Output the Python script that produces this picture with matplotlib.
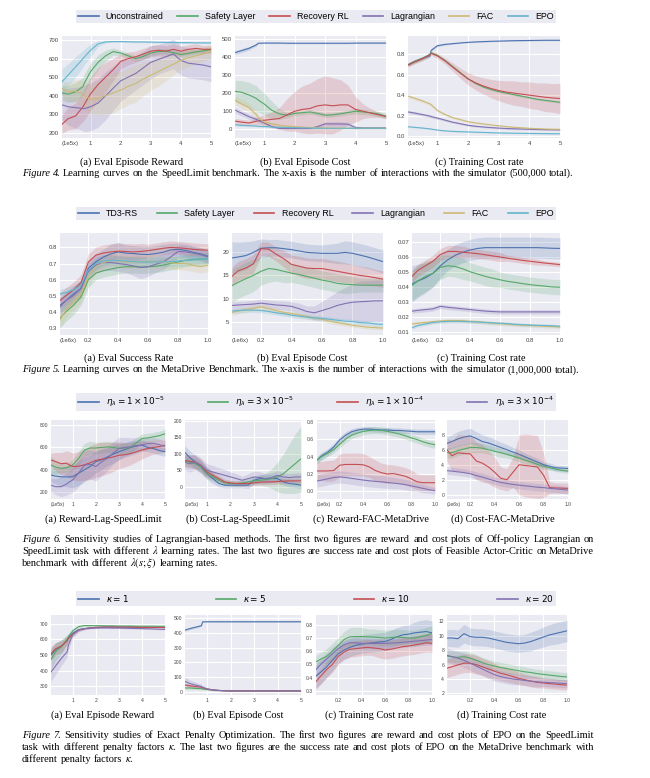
import numpy as np
import matplotlib
matplotlib.use('Agg')
import matplotlib.pyplot as plt
from matplotlib.lines import Line2D

W, H = 650, 778

# seaborn "deep" colours, in legend order
C = ['#4C72B0', '#55A868', '#C44E52', '#8172B2', '#CCB974', '#64B5CD']

labels4 = ['Unconstrained', 'Safety Layer', 'Recovery RL', 'Lagrangian', 'FAC', 'EPO']
labels5 = ['TD3-RS', 'Safety Layer', 'Recovery RL', 'Lagrangian', 'FAC', 'EPO']
labels6 = [r'$\eta_\lambda = 1\times10^{-5}$', r'$\eta_\lambda = 3\times10^{-5}$',
           r'$\eta_\lambda = 1\times10^{-4}$', r'$\eta_\lambda = 3\times10^{-4}$']
labels7 = [r'$\kappa = 1$', r'$\kappa = 5$', r'$\kappa = 10$', r'$\kappa = 20$']

# x values (SpeedLimit in 1e5 steps, MetaDrive in 1e6 steps)
x_sl = [0.05, 0.25, 0.5, 0.75, 0.8, 1.0, 1.25, 1.5, 1.75, 2.0, 2.25, 2.5, 2.75,
        3.0, 3.25, 3.5, 3.75, 4.0, 4.25, 4.5, 4.75, 5.0]
x_md = [0.01, 0.05, 0.1, 0.15, 0.2, 0.25, 0.3, 0.35, 0.4, 0.45, 0.5, 0.55, 0.6,
        0.65, 0.7, 0.75, 0.8, 0.85, 0.9, 0.95, 1.0]

# ---- Figure 4 (SpeedLimit) ----
# (a) reward: Safety Layer, Recovery RL, Lagrangian, FAC, EPO
f4a_mean = [
    [415, 408, 420, 450, 470, 530, 580, 615, 638, 630, 615, 600, 612, 630, 638, 640, 632, 622, 628, 636, 642, 648],
    [245, 275, 290, 340, 355, 410, 460, 500, 540, 585, 600, 610, 625, 640, 645, 640, 650, 640, 650, 655, 650, 650],
    [350, 340, 335, 330, 330, 340, 360, 400, 440, 480, 500, 520, 550, 580, 595, 610, 625, 590, 575, 570, 565, 555],
    [440, 420, 425, 410, 400, 380, 385, 400, 415, 430, 450, 465, 490, 510, 530, 550, 570, 590, 605, 615, 625, 640],
    [475, 510, 555, 600, 610, 645, 680, 690, 692, 692, 691, 690, 690, 689, 688, 688, 687, 686, 686, 685, 685, 685],
]
f4a_band = [
    [40, 45, 50, 50, 50, 45, 40, 30, 20, 15, 15, 15, 15, 15, 15, 15, 15, 15, 15, 15, 15, 15],
    [50, 60, 70, 80, 85, 90, 90, 80, 60, 40, 35, 30, 30, 30, 30, 30, 30, 25, 25, 25, 20, 20],
    [80, 100, 110, 120, 125, 130, 130, 130, 120, 110, 100, 90, 90, 90, 80, 80, 80, 80, 80, 80, 80, 80],
    [40, 50, 60, 70, 75, 80, 90, 100, 110, 100, 100, 100, 90, 80, 80, 70, 60, 50, 50, 40, 40, 40],
    [70, 60, 55, 45, 42, 35, 15, 6, 4, 4, 4, 4, 4, 4, 4, 4, 4, 4, 4, 4, 4, 4],
]
# (b) cost: all six methods
f4b_mean = [
    [425, 435, 448, 468, 476, 477, 477, 477, 476, 476, 476, 476, 476, 476, 476, 476, 476, 477, 477, 477, 477, 477],
    [210, 205, 190, 170, 162, 140, 105, 85, 78, 88, 92, 96, 88, 78, 80, 86, 93, 100, 96, 92, 85, 72],
    [45, 40, 35, 45, 47, 50, 55, 60, 80, 100, 110, 115, 130, 135, 130, 135, 135, 110, 100, 90, 80, 70],
    [105, 90, 70, 55, 50, 35, 15, 5, 5, 5, 5, 5, 15, 30, 30, 30, 28, 10, 8, 8, 8, 8],
    [160, 140, 120, 80, 65, 40, 30, 22, 18, 15, 12, 10, 8, 7, 6, 6, 6, 6, 6, 6, 6, 6],
    [25, 22, 20, 18, 17, 15, 13, 11, 10, 9, 8, 7, 6, 6, 6, 6, 6, 6, 6, 6, 6, 6],
]
f4b_band = [
    [10, 10, 10, 6, 4, 3, 3, 3, 3, 3, 3, 3, 3, 3, 3, 3, 3, 3, 3, 3, 3, 3],
    [60, 65, 70, 70, 65, 60, 50, 30, 15, 12, 12, 12, 12, 12, 12, 12, 12, 15, 15, 15, 15, 15],
    [15, 15, 15, 20, 22, 30, 40, 60, 90, 110, 130, 140, 150, 160, 155, 140, 110, 70, 40, 25, 15, 10],
    [15, 15, 15, 12, 12, 10, 8, 5, 5, 5, 5, 5, 8, 12, 12, 12, 12, 8, 5, 5, 5, 5],
    [25, 25, 25, 20, 18, 15, 10, 8, 6, 5, 5, 5, 5, 5, 5, 5, 5, 5, 5, 5, 5, 5],
    [6, 6, 5, 5, 5, 5, 4, 4, 4, 4, 4, 4, 4, 4, 4, 4, 4, 4, 4, 4, 4, 4],
]
# (c) training cost rate
f4c_mean = [
    [0.70, 0.73, 0.76, 0.785, 0.84, 0.885, 0.898, 0.905, 0.912, 0.918, 0.922, 0.925, 0.928, 0.93, 0.932, 0.934, 0.935, 0.936, 0.937, 0.938, 0.938, 0.938],
    [0.70, 0.73, 0.76, 0.80, 0.815, 0.79, 0.74, 0.68, 0.62, 0.56, 0.515, 0.48, 0.455, 0.435, 0.42, 0.405, 0.39, 0.375, 0.36, 0.35, 0.34, 0.33],
    [0.695, 0.725, 0.755, 0.795, 0.81, 0.785, 0.735, 0.675, 0.615, 0.56, 0.52, 0.49, 0.465, 0.445, 0.43, 0.42, 0.41, 0.40, 0.39, 0.38, 0.373, 0.367],
    [0.235, 0.225, 0.21, 0.195, 0.19, 0.175, 0.155, 0.135, 0.12, 0.105, 0.095, 0.088, 0.082, 0.077, 0.073, 0.07, 0.068, 0.066, 0.064, 0.062, 0.061, 0.06],
    [0.39, 0.37, 0.345, 0.315, 0.305, 0.25, 0.21, 0.18, 0.16, 0.14, 0.128, 0.118, 0.108, 0.1, 0.092, 0.085, 0.08, 0.075, 0.071, 0.068, 0.066, 0.065],
    [0.09, 0.085, 0.078, 0.07, 0.067, 0.058, 0.05, 0.045, 0.042, 0.04, 0.037, 0.035, 0.032, 0.03, 0.028, 0.027, 0.026, 0.025, 0.024, 0.023, 0.022, 0.022],
]
f4c_band = [
    [0.015, 0.015, 0.015, 0.015, 0.012, 0.01, 0.008, 0.006, 0.005, 0.005, 0.005, 0.005, 0.005, 0.005, 0.005, 0.005, 0.005, 0.005, 0.005, 0.005, 0.005, 0.005],
    [0.015, 0.015, 0.015, 0.015, 0.012, 0.01, 0.01, 0.01, 0.01, 0.01, 0.01, 0.01, 0.01, 0.01, 0.01, 0.01, 0.01, 0.01, 0.01, 0.01, 0.01, 0.01],
    [0.02, 0.02, 0.02, 0.02, 0.02, 0.025, 0.03, 0.04, 0.05, 0.06, 0.07, 0.08, 0.09, 0.1, 0.11, 0.12, 0.12, 0.13, 0.13, 0.14, 0.14, 0.15],
    [0.015, 0.015, 0.015, 0.015, 0.015, 0.012, 0.012, 0.01, 0.01, 0.01, 0.01, 0.008, 0.008, 0.008, 0.008, 0.008, 0.008, 0.008, 0.008, 0.008, 0.008, 0.008],
    [0.015, 0.015, 0.015, 0.015, 0.015, 0.012, 0.012, 0.01, 0.01, 0.01, 0.01, 0.008, 0.008, 0.008, 0.008, 0.008, 0.008, 0.008, 0.008, 0.008, 0.008, 0.008],
    [0.006, 0.006, 0.006, 0.006, 0.006, 0.005, 0.005, 0.005, 0.005, 0.005, 0.005, 0.004, 0.004, 0.004, 0.004, 0.004, 0.004, 0.004, 0.004, 0.004, 0.004, 0.004],
]

# ---- Figure 5 (MetaDrive) ----
f5a_mean = [
    [0.44, 0.47, 0.51, 0.545, 0.67, 0.71, 0.74, 0.76, 0.772, 0.765, 0.762, 0.758, 0.756, 0.762, 0.77, 0.785, 0.788, 0.782, 0.77, 0.76, 0.745],
    [0.36, 0.40, 0.44, 0.49, 0.60, 0.64, 0.655, 0.665, 0.675, 0.68, 0.68, 0.678, 0.68, 0.683, 0.69, 0.70, 0.71, 0.72, 0.725, 0.728, 0.73],
    [0.47, 0.50, 0.535, 0.58, 0.71, 0.752, 0.765, 0.772, 0.777, 0.775, 0.772, 0.775, 0.78, 0.787, 0.795, 0.8, 0.798, 0.794, 0.788, 0.785, 0.783],
    [0.43, 0.47, 0.50, 0.545, 0.65, 0.69, 0.705, 0.707, 0.70, 0.694, 0.685, 0.675, 0.68, 0.695, 0.71, 0.74, 0.775, 0.772, 0.765, 0.755, 0.74],
    [0.35, 0.41, 0.46, 0.51, 0.62, 0.68, 0.705, 0.72, 0.715, 0.71, 0.71, 0.712, 0.715, 0.712, 0.71, 0.705, 0.70, 0.70, 0.69, 0.68, 0.69],
    [0.51, 0.52, 0.535, 0.565, 0.66, 0.70, 0.715, 0.72, 0.718, 0.715, 0.712, 0.71, 0.71, 0.71, 0.71, 0.712, 0.715, 0.72, 0.722, 0.725, 0.73],
]
f5a_band = [
    [0.05, 0.05, 0.05, 0.05, 0.05, 0.05, 0.05, 0.06, 0.06, 0.05, 0.05, 0.05, 0.05, 0.05, 0.05, 0.04, 0.04, 0.04, 0.04, 0.04, 0.04],
    [0.06, 0.06, 0.06, 0.05, 0.05, 0.04, 0.04, 0.04, 0.04, 0.04, 0.04, 0.04, 0.04, 0.04, 0.04, 0.04, 0.04, 0.04, 0.04, 0.04, 0.04],
    [0.05, 0.05, 0.05, 0.05, 0.05, 0.05, 0.05, 0.05, 0.05, 0.05, 0.05, 0.05, 0.04, 0.04, 0.04, 0.04, 0.04, 0.04, 0.04, 0.04, 0.04],
    [0.05, 0.05, 0.05, 0.05, 0.05, 0.05, 0.05, 0.05, 0.05, 0.05, 0.06, 0.07, 0.06, 0.05, 0.05, 0.04, 0.04, 0.04, 0.04, 0.04, 0.04],
    [0.05, 0.05, 0.05, 0.05, 0.05, 0.04, 0.04, 0.04, 0.04, 0.04, 0.04, 0.04, 0.04, 0.04, 0.04, 0.04, 0.04, 0.04, 0.04, 0.04, 0.04],
    [0.03, 0.03, 0.03, 0.03, 0.03, 0.03, 0.03, 0.03, 0.03, 0.03, 0.03, 0.03, 0.03, 0.03, 0.03, 0.03, 0.03, 0.03, 0.03, 0.03, 0.03],
]
f5b_mean = [
    [18.8, 19.0, 19.3, 20.0, 20.9, 21.0, 21.0, 20.8, 20.6, 20.3, 20.0, 19.9, 19.8, 19.8, 19.8, 20.0, 19.8, 19.4, 19.0, 18.5, 18.0],
    [12.8, 13.5, 14.3, 15.0, 15.9, 16.5, 16.3, 15.9, 15.5, 15.2, 14.8, 14.4, 14.0, 13.7, 13.3, 13.1, 13.0, 12.9, 12.9, 12.9, 12.9],
    [14.8, 16.0, 16.6, 17.5, 20.8, 20.7, 19.6, 18.6, 17.4, 17.0, 16.6, 16.5, 16.5, 16.2, 15.9, 15.6, 15.3, 15.0, 14.8, 14.5, 14.2],
    [8.5, 8.6, 8.7, 8.8, 9.0, 8.8, 8.6, 8.5, 8.3, 7.8, 7.2, 6.9, 7.4, 7.9, 8.5, 8.9, 9.2, 9.3, 9.4, 9.5, 9.5],
    [7.0, 7.3, 7.6, 7.9, 8.2, 7.8, 7.4, 7.0, 6.8, 6.4, 6.1, 5.8, 5.5, 5.1, 4.8, 4.5, 4.2, 4.0, 3.8, 3.7, 3.6],
    [7.3, 7.4, 7.5, 7.5, 7.4, 7.2, 6.9, 6.7, 6.4, 6.2, 6.0, 5.8, 5.7, 5.5, 5.3, 5.1, 5.0, 4.8, 4.7, 4.5, 4.4],
]
f5b_band = [
    [3.5, 3.2, 3.0, 2.5, 2.0, 1.8, 1.8, 1.8, 1.8, 1.8, 1.8, 1.8, 1.8, 2.0, 2.2, 2.5, 2.5, 2.5, 2.5, 2.5, 2.5],
    [3.5, 3.5, 3.5, 3.5, 3.0, 3.0, 2.5, 2.5, 2.0, 2.0, 2.0, 2.0, 2.0, 2.0, 2.0, 2.0, 1.8, 1.5, 1.5, 1.5, 1.5],
    [2.0, 2.0, 2.0, 2.0, 1.5, 1.5, 1.5, 1.8, 2.0, 2.2, 2.2, 2.2, 2.2, 2.2, 2.2, 2.2, 2.0, 2.0, 2.0, 1.8, 1.8],
    [0.8, 0.8, 0.8, 0.8, 0.9, 0.9, 0.9, 1.0, 1.0, 1.2, 1.2, 1.5, 2.0, 2.5, 3.0, 3.5, 4.0, 4.5, 4.5, 4.5, 4.5],
    [0.6, 0.6, 0.6, 0.6, 0.6, 0.6, 0.6, 0.5, 0.5, 0.5, 0.5, 0.5, 0.5, 0.5, 0.5, 0.5, 0.4, 0.4, 0.4, 0.4, 0.4],
    [0.5, 0.5, 0.5, 0.5, 0.5, 0.5, 0.5, 0.5, 0.5, 0.5, 0.5, 0.5, 0.5, 0.5, 0.5, 0.5, 0.5, 0.5, 0.5, 0.5, 0.5],
]
f5c_mean = [
    [0.042, 0.044, 0.046, 0.049, 0.054, 0.058, 0.061, 0.063, 0.0645, 0.0655, 0.066, 0.066, 0.066, 0.066, 0.066, 0.066, 0.066, 0.066, 0.0658, 0.0656, 0.0655],
    [0.041, 0.044, 0.047, 0.049, 0.053, 0.054, 0.0535, 0.052, 0.050, 0.0485, 0.047, 0.0458, 0.0447, 0.0437, 0.043, 0.0422, 0.0415, 0.041, 0.0405, 0.040, 0.0398],
    [0.047, 0.051, 0.054, 0.057, 0.0615, 0.0635, 0.0635, 0.063, 0.0625, 0.062, 0.0613, 0.0605, 0.0598, 0.059, 0.0583, 0.0576, 0.057, 0.0564, 0.0558, 0.0553, 0.0548],
    [0.024, 0.0245, 0.025, 0.0255, 0.0272, 0.0265, 0.026, 0.0255, 0.025, 0.0245, 0.024, 0.0237, 0.0235, 0.0235, 0.0235, 0.0235, 0.0235, 0.0235, 0.0235, 0.0235, 0.0235],
    [0.0155, 0.016, 0.0165, 0.017, 0.0175, 0.0178, 0.0178, 0.0177, 0.0172, 0.017, 0.0165, 0.016, 0.0157, 0.0153, 0.015, 0.0147, 0.0145, 0.0143, 0.014, 0.0138, 0.0135],
    [0.013, 0.0145, 0.0155, 0.0165, 0.017, 0.0172, 0.0173, 0.0172, 0.017, 0.0168, 0.0165, 0.0162, 0.016, 0.0157, 0.0153, 0.015, 0.0148, 0.0146, 0.0145, 0.0143, 0.014],
]
f5c_band = [
    [0.012, 0.011, 0.010, 0.009, 0.008, 0.007, 0.007, 0.007, 0.007, 0.007, 0.007, 0.007, 0.007, 0.007, 0.007, 0.007, 0.007, 0.007, 0.007, 0.007, 0.007],
    [0.010, 0.010, 0.010, 0.009, 0.008, 0.007, 0.007, 0.007, 0.006, 0.006, 0.006, 0.006, 0.005, 0.005, 0.005, 0.005, 0.005, 0.005, 0.005, 0.005, 0.005],
    [0.004, 0.004, 0.004, 0.004, 0.004, 0.004, 0.004, 0.004, 0.003, 0.003, 0.003, 0.003, 0.003, 0.002, 0.002, 0.002, 0.002, 0.002, 0.0015, 0.0015, 0.0015],
    [0.0015, 0.0015, 0.0015, 0.0015, 0.0015, 0.0015, 0.0015, 0.0015, 0.0015, 0.0015, 0.0015, 0.0015, 0.0015, 0.0015, 0.0015, 0.0015, 0.0015, 0.0015, 0.0015, 0.0015, 0.0015],
    [0.0012, 0.0012, 0.0012, 0.0012, 0.0012, 0.0012, 0.0012, 0.0012, 0.0012, 0.0012, 0.0012, 0.0012, 0.0012, 0.0012, 0.0012, 0.0012, 0.0012, 0.0012, 0.0012, 0.0012, 0.0012],
    [0.001, 0.001, 0.001, 0.001, 0.001, 0.001, 0.001, 0.001, 0.001, 0.001, 0.001, 0.001, 0.001, 0.001, 0.001, 0.001, 0.001, 0.001, 0.001, 0.001, 0.001],
]

# ---- Figure 6 (Lagrangian sensitivity) ----
f6a_mean = [
    [354, 345, 338, 337, 337, 340, 370, 400, 430, 473, 490, 515, 540, 562, 580, 600, 612, 622, 600, 590, 572, 562],
    [444, 425, 414, 420, 425, 444, 500, 575, 595, 595, 600, 605, 600, 592, 595, 600, 640, 680, 685, 695, 705, 722],
    [488, 475, 455, 460, 450, 430, 432, 445, 462, 485, 495, 505, 515, 530, 535, 545, 560, 578, 590, 600, 608, 620],
    [265, 250, 250, 275, 285, 310, 370, 440, 450, 430, 470, 503, 550, 590, 600, 607, 615, 622, 635, 637, 625, 610],
]
f6a_band = [
    [60, 70, 80, 90, 90, 100, 110, 110, 100, 100, 90, 80, 80, 70, 60, 60, 50, 50, 40, 40, 40, 40],
    [80, 60, 40, 40, 40, 50, 60, 60, 60, 50, 50, 50, 50, 50, 50, 50, 50, 40, 40, 40, 40, 40],
    [60, 80, 100, 110, 115, 120, 130, 140, 150, 150, 150, 140, 130, 120, 110, 100, 90, 80, 70, 60, 60, 60],
    [60, 70, 90, 100, 100, 110, 120, 130, 130, 130, 120, 110, 100, 100, 90, 80, 70, 60, 50, 50, 50, 50],
]
f6b_mean = [
    [105, 90, 75, 60, 55, 40, 25, 10, 5, 5, 5, 5, 5, 20, 25, 25, 25, 25, 15, 10, 8, 5],
    [80, 75, 70, 60, 55, 40, 30, 20, 12, 10, 10, 12, 15, 18, 20, 22, 25, 30, 40, 55, 70, 85],
    [80, 78, 75, 65, 60, 45, 35, 25, 15, 12, 10, 10, 10, 12, 14, 15, 15, 16, 17, 18, 18, 18],
    [75, 70, 75, 65, 62, 50, 45, 40, 35, 30, 25, 20, 25, 30, 28, 25, 28, 35, 30, 28, 30, 30],
]
f6b_band = [
    [20, 20, 20, 20, 20, 18, 15, 10, 8, 8, 8, 8, 10, 12, 12, 12, 12, 12, 10, 10, 10, 10],
    [15, 15, 15, 15, 15, 15, 12, 10, 8, 8, 8, 10, 10, 12, 15, 20, 30, 45, 60, 75, 90, 100],
    [20, 20, 20, 18, 18, 15, 12, 10, 8, 8, 8, 8, 8, 8, 8, 8, 8, 8, 8, 8, 8, 8],
    [25, 25, 25, 22, 22, 20, 20, 18, 18, 15, 15, 12, 15, 18, 18, 15, 15, 15, 12, 12, 12, 12],
]
f6c_mean = [
    [0.36, 0.41, 0.45, 0.51, 0.59, 0.645, 0.685, 0.705, 0.715, 0.715, 0.71, 0.705, 0.705, 0.70, 0.70, 0.695, 0.69, 0.685, 0.685, 0.685, 0.685],
    [0.36, 0.40, 0.44, 0.48, 0.54, 0.60, 0.645, 0.67, 0.69, 0.70, 0.705, 0.70, 0.69, 0.675, 0.66, 0.64, 0.615, 0.595, 0.57, 0.55, 0.535],
    [0.235, 0.235, 0.235, 0.24, 0.30, 0.31, 0.31, 0.31, 0.305, 0.28, 0.24, 0.215, 0.20, 0.205, 0.19, 0.175, 0.145, 0.11, 0.10, 0.10, 0.10],
    [0.12, 0.13, 0.145, 0.16, 0.166, 0.16, 0.15, 0.14, 0.13, 0.122, 0.115, 0.11, 0.103, 0.095, 0.088, 0.078, 0.065, 0.05, 0.035, 0.02, 0.008],
]
f6c_band = [
    [0.04, 0.04, 0.04, 0.04, 0.04, 0.04, 0.035, 0.03, 0.03, 0.03, 0.03, 0.03, 0.03, 0.03, 0.03, 0.03, 0.03, 0.03, 0.03, 0.03, 0.03],
    [0.04, 0.04, 0.04, 0.04, 0.04, 0.04, 0.04, 0.04, 0.04, 0.04, 0.04, 0.04, 0.04, 0.04, 0.04, 0.04, 0.04, 0.04, 0.04, 0.04, 0.04],
    [0.1, 0.11, 0.12, 0.12, 0.13, 0.13, 0.13, 0.13, 0.13, 0.12, 0.12, 0.11, 0.11, 0.1, 0.1, 0.1, 0.1, 0.09, 0.09, 0.09, 0.09],
    [0.07, 0.07, 0.07, 0.07, 0.07, 0.07, 0.07, 0.07, 0.07, 0.07, 0.07, 0.07, 0.07, 0.065, 0.06, 0.06, 0.06, 0.05, 0.05, 0.04, 0.04],
]
f6d_mean = [
    [6.85, 7.1, 7.45, 7.7, 7.85, 7.5, 7.1, 6.9, 6.6, 6.3, 6.0, 5.7, 5.4, 5.05, 4.7, 4.35, 4.0, 3.8, 3.6, 3.55, 3.5],
    [5.6, 5.6, 5.9, 6.1, 6.3, 6.3, 6.2, 6.0, 5.8, 5.6, 5.4, 5.15, 4.9, 4.6, 4.35, 4.05, 3.8, 3.6, 3.4, 3.25, 3.15],
    [6.0, 5.2, 5.6, 5.5, 5.45, 4.5, 4.2, 3.7, 3.0, 2.2, 2.0, 3.0, 4.0, 3.9, 3.8, 3.7, 2.6, 0.95, 0.9, 0.88, 0.85],
    [3.2, 3.15, 3.05, 2.95, 2.8, 2.55, 2.35, 2.1, 1.85, 1.65, 1.5, 1.38, 1.28, 1.18, 1.1, 1.0, 0.95, 0.85, 0.78, 0.7, 0.62],
]
f6d_band = [
    [0.9, 0.9, 1.0, 1.0, 1.0, 0.9, 0.9, 0.8, 0.8, 0.7, 0.7, 0.6, 0.6, 0.5, 0.5, 0.5, 0.4, 0.4, 0.4, 0.4, 0.4],
    [0.7, 0.7, 0.7, 0.7, 0.7, 0.7, 0.6, 0.6, 0.6, 0.6, 0.5, 0.5, 0.5, 0.5, 0.4, 0.4, 0.4, 0.3, 0.3, 0.3, 0.3],
    [1.5, 2.0, 2.5, 2.5, 2.5, 2.5, 2.5, 2.2, 2.0, 1.5, 1.5, 2.0, 4.0, 4.2, 4.2, 4.2, 3.0, 0.8, 0.7, 0.7, 0.7],
    [0.5, 0.5, 0.5, 0.5, 0.5, 0.5, 0.5, 0.5, 0.5, 0.5, 0.5, 0.5, 0.5, 0.5, 0.5, 0.5, 0.5, 0.5, 0.5, 0.5, 0.5],
]

# ---- Figure 7 (EPO penalty factor) ----
f7a_mean = [
    [500, 535, 555, 595, 610, 640, 663, 670, 675, 678, 679, 680, 680, 680, 680, 680, 680, 679, 679, 678, 678, 677],
    [472, 521, 554, 601, 615, 657, 683, 690, 690, 689, 689, 688, 688, 687, 687, 687, 686, 686, 686, 686, 685, 685],
    [510, 540, 558, 590, 605, 635, 661, 670, 675, 678, 680, 681, 681, 680, 680, 680, 679, 678, 678, 678, 678, 678],
    [390, 430, 478, 520, 560, 635, 662, 670, 673, 674, 675, 675, 674, 674, 673, 672, 671, 670, 669, 668, 666, 665],
]
f7a_band = [
    [50, 45, 40, 30, 25, 15, 8, 5, 4, 4, 4, 4, 4, 4, 4, 4, 4, 4, 4, 4, 4, 4],
    [60, 55, 45, 30, 25, 15, 8, 5, 4, 4, 4, 4, 4, 4, 4, 4, 4, 4, 4, 4, 4, 4],
    [40, 40, 35, 30, 25, 15, 10, 8, 5, 4, 4, 4, 4, 4, 4, 4, 4, 4, 4, 4, 4, 4],
    [60, 55, 45, 35, 30, 20, 10, 6, 4, 4, 4, 4, 4, 4, 4, 4, 4, 4, 4, 4, 4, 4],
]
f7b_mean = [
    [420, 430, 440, 450, 476, 477, 477, 477, 477, 477, 477, 477, 477, 477, 477, 477, 477, 477, 477, 477, 477, 477],
    [25, 25, 22, 20, 18, 15, 10, 8, 6, 5, 5, 5, 5, 5, 5, 5, 5, 5, 5, 5, 5, 5],
    [45, 40, 35, 30, 26, 18, 12, 8, 6, 5, 5, 5, 5, 5, 5, 5, 5, 5, 5, 5, 5, 5],
    [70, 55, 45, 35, 30, 18, 12, 8, 6, 5, 5, 5, 5, 5, 5, 5, 5, 5, 5, 5, 5, 5],
]
f7b_band = [
    [8, 8, 8, 6, 3, 3, 3, 3, 3, 3, 3, 3, 3, 3, 3, 3, 3, 3, 3, 3, 3, 3],
    [10, 10, 8, 8, 6, 5, 4, 3, 3, 3, 3, 3, 3, 3, 3, 3, 3, 3, 3, 3, 3, 3],
    [10, 10, 8, 8, 6, 5, 4, 3, 3, 3, 3, 3, 3, 3, 3, 3, 3, 3, 3, 3, 3, 3],
    [30, 25, 20, 15, 12, 8, 5, 3, 3, 3, 3, 3, 3, 3, 3, 3, 3, 3, 3, 3, 3, 3],
]
f7c_mean = [
    [0.41, 0.44, 0.48, 0.53, 0.58, 0.61, 0.63, 0.645, 0.655, 0.66, 0.665, 0.67, 0.675, 0.69, 0.71, 0.725, 0.73, 0.74, 0.745, 0.75, 0.74],
    [0.52, 0.54, 0.56, 0.60, 0.645, 0.69, 0.71, 0.712, 0.712, 0.71, 0.708, 0.705, 0.70, 0.705, 0.708, 0.705, 0.70, 0.70, 0.71, 0.72, 0.735],
    [0.37, 0.41, 0.46, 0.50, 0.56, 0.595, 0.615, 0.62, 0.625, 0.63, 0.625, 0.62, 0.61, 0.615, 0.625, 0.635, 0.64, 0.648, 0.655, 0.665, 0.66],
    [0.46, 0.50, 0.54, 0.58, 0.62, 0.65, 0.665, 0.665, 0.66, 0.66, 0.66, 0.66, 0.66, 0.662, 0.665, 0.668, 0.672, 0.676, 0.68, 0.685, 0.69],
]
f7c_band = [
    [0.09, 0.09, 0.08, 0.08, 0.07, 0.07, 0.07, 0.07, 0.07, 0.07, 0.07, 0.07, 0.07, 0.07, 0.07, 0.07, 0.07, 0.08, 0.09, 0.09, 0.09],
    [0.05, 0.05, 0.06, 0.06, 0.06, 0.06, 0.07, 0.07, 0.07, 0.06, 0.06, 0.06, 0.06, 0.06, 0.06, 0.06, 0.06, 0.06, 0.06, 0.06, 0.06],
    [0.06, 0.06, 0.06, 0.06, 0.06, 0.06, 0.06, 0.06, 0.06, 0.06, 0.06, 0.07, 0.07, 0.07, 0.07, 0.07, 0.07, 0.07, 0.07, 0.07, 0.07],
    [0.05, 0.05, 0.05, 0.05, 0.04, 0.04, 0.04, 0.04, 0.04, 0.04, 0.04, 0.04, 0.04, 0.04, 0.04, 0.04, 0.04, 0.04, 0.04, 0.04, 0.04],
]
f7d_mean = [
    [9.7, 9.7, 9.6, 10.3, 9.9, 9.8, 9.8, 9.7, 9.5, 9.3, 9.1, 9.0, 8.9, 9.0, 9.2, 9.5, 9.8, 10.1, 10.3, 10.5, 10.7],
    [7.2, 7.1, 7.0, 7.1, 6.9, 6.6, 6.3, 6.0, 5.8, 5.6, 5.45, 5.3, 5.15, 5.0, 4.9, 4.75, 4.65, 4.55, 4.45, 4.35, 4.3],
    [5.5, 5.7, 5.95, 6.2, 6.2, 6.0, 5.7, 5.4, 5.1, 4.8, 4.6, 4.35, 4.1, 3.9, 3.7, 3.55, 3.45, 3.35, 3.3, 3.2, 3.15],
    [7.3, 7.1, 6.9, 6.6, 6.2, 5.8, 5.4, 5.0, 4.6, 4.35, 4.15, 4.0, 3.9, 3.8, 3.7, 3.6, 3.55, 3.5, 3.45, 3.4, 3.35],
]
f7d_band = [
    [1.2, 1.2, 1.2, 1.3, 1.2, 1.2, 1.2, 1.2, 1.2, 1.2, 1.2, 1.2, 1.2, 1.2, 1.3, 1.3, 1.4, 1.4, 1.5, 1.5, 1.5],
    [0.8, 0.8, 0.8, 0.8, 0.8, 0.8, 0.7, 0.7, 0.7, 0.7, 0.7, 0.7, 0.7, 0.7, 0.6, 0.6, 0.6, 0.6, 0.6, 0.6, 0.6],
    [1.3, 1.3, 1.3, 1.3, 1.3, 1.3, 1.2, 1.2, 1.1, 1.0, 1.0, 0.9, 0.9, 0.8, 0.8, 0.8, 0.7, 0.7, 0.7, 0.7, 0.7],
    [1.0, 1.0, 1.0, 1.0, 1.0, 1.0, 0.9, 0.9, 0.9, 0.8, 0.8, 0.8, 0.7, 0.7, 0.7, 0.7, 0.6, 0.6, 0.6, 0.6, 0.6],
]

plt.rcParams['font.family'] = ['Liberation Sans', 'DejaVu Sans']
plt.rcParams['axes.facecolor'] = '#EAEAF2'

fig = plt.figure(figsize=(W / 100, H / 100), dpi=100)
renderer = fig.canvas.get_renderer()
SERIF = 'Liberation Serif'
CAP_FS = 7.5


def panel(box, x, means, bands, colors, xlim, ylim, xticks, yticks, fs, offset=None):
    x0, x1, y0, y1 = box
    ax = fig.add_axes([x0 / W, 1 - y1 / H, (x1 - x0) / W, (y1 - y0) / H])
    ax.set_facecolor('#EAEAF2')
    for m, b, c in zip(means, bands, colors):
        m, b = np.asarray(m), np.asarray(b)
        ax.fill_between(x, m - b, m + b, color=c, alpha=0.2, lw=0)
        ax.plot(x, m, color=c, lw=0.8)
    ax.set_xlim(xlim)
    ax.set_ylim(ylim)
    ax.set_xticks(xticks)
    ax.set_yticks(yticks)
    ax.grid(True, color='white', lw=0.8)
    ax.set_axisbelow(True)
    for s in ax.spines.values():
        s.set_visible(False)
    ax.tick_params(length=0, labelsize=fs, labelcolor='#444444', pad=2)
    if offset:
        ax.annotate(offset, (0, 0), xycoords='axes fraction', xytext=(0, -2),
                    textcoords='offset points', ha='left', va='top',
                    fontsize=fs, color='#444444')
    return ax


def legend(y0, y1, labels, colors):
    handles = [Line2D([], [], color=c, lw=1.2) for c in colors]
    x0, x1 = 76, 556
    leg = fig.legend(handles, labels, loc='center', ncol=len(labels), mode='expand',
                     bbox_to_anchor=(x0 / W, 1 - y1 / H, (x1 - x0) / W, (y1 - y0) / H),
                     fontsize=6.4, frameon=True, fancybox=False, borderaxespad=0,
                     handlelength=2.3, handletextpad=0.8, borderpad=0.25)
    leg.get_frame().set_facecolor('#EAEAF2')
    leg.get_frame().set_linewidth(0)
    leg.get_frame().set_alpha(1)


def subcap(box, y, text):
    xc = (box[0] - 10 + box[1]) / 2
    fig.text(xc / W, 1 - y / H, text, ha='center', va='center', family=SERIF, fontsize=7.4)


def caption_line(y, parts, justify, fs=CAP_FS, x0=22, x1=594):
    words = []
    for txt, italic in parts:
        for w in txt.split():
            words.append((w, italic))
    texts = [fig.text(0, 1 - y / H, w, fontsize=fs, family=SERIF,
                      style='italic' if it else 'normal', va='baseline', ha='left',
                      math_fontfamily='stix') for w, it in words]
    widths = [t.get_window_extent(renderer).width for t in texts]
    gap = fs * 100 / 72 * 0.25
    if justify:
        gap = (x1 - x0 - sum(widths)) / (len(words) - 1)
    x = x0
    for t, wd in zip(texts, widths):
        t.set_x(x / W)
        x += wd + gap


# ---------------- Figure 4 ----------------
legend(10, 23, labels4, C)
top, bot = 36, 138
panel((62, 211, top, bot), x_sl, f4a_mean, f4a_band, C[1:], (0.05, 5), (171, 722),
      [1, 2, 3, 4, 5], [200, 300, 400, 500, 600, 700], 4.3, '(1e5x)')
panel((235, 386, top, bot), x_sl, f4b_mean, f4b_band, C, (0.04, 5), (-48, 516),
      [1, 2, 3, 4, 5], [0, 100, 200, 300, 400, 500], 4.3, '(1e5x)')
panel((408, 560, top, bot), x_sl, f4c_mean, f4c_band, C, (0.04, 5), (-0.02, 0.98),
      [1, 2, 3, 4, 5], [0.0, 0.2, 0.4, 0.6, 0.8], 4.3, '(1e5x)')
subcap((62, 211), 162, '(a) Eval Episode Reward')
subcap((235, 386), 162, '(b) Eval Episode Cost')
subcap((408, 560), 162, '(c) Training Cost rate')
caption_line(175.5, [('Figure 4.', True), ('Learning curves on the SpeedLimit benchmark. The x-axis is the number '
                                          'of interactions with the simulator (500,000 total).', False)], False)

# ---------------- Figure 5 ----------------
legend(207, 220, labels5, C)
top, bot = 233, 335
panel((60, 208, top, bot), x_md, f5a_mean, f5a_band, C, (0.01, 1.0), (0.255, 0.89),
      [0.2, 0.4, 0.6, 0.8, 1.0], [0.3, 0.4, 0.5, 0.6, 0.7, 0.8], 4.3, '(1e6x)')
panel((232, 383, top, bot), x_md, f5b_mean, f5b_band, C, (0.01, 1.0), (2.1, 24.2),
      [0.2, 0.4, 0.6, 0.8, 1.0], [5, 10, 15, 20], 4.3, '(1e6x)')
panel((412, 560, top, bot), x_md, f5c_mean, f5c_band, C, (0.01, 1.0), (0.0082, 0.0757),
      [0.2, 0.4, 0.6, 0.8, 1.0], [0.01, 0.02, 0.03, 0.04, 0.05, 0.06, 0.07], 4.3, '(1e6x)')
subcap((60, 208), 358, '(a) Eval Success Rate')
subcap((232, 383), 358, '(b) Eval Episode Cost')
subcap((412, 560), 358, '(c) Training Cost rate')
caption_line(372.5, [('Figure 5.', True), ('Learning curves on the MetaDrive Benchmark. The x-axis is the number '
                                          'of interactions with the simulator (1,000,000 total).', False)], False)

# ---------------- Figure 6 ----------------
C4 = C[:4]
legend(396, 408, labels6, C4)
top, bot = 420, 499
panel((51, 165, top, bot), x_sl, f6a_mean, f6a_band, C4, (0.06, 5), (140, 845),
      [1, 2, 3, 4, 5], [200, 400, 600, 800], 3.6, '(1e5x)')
panel((185, 301, top, bot), x_sl, f6b_mean, f6b_band, C4, (0.06, 5), (-37, 203),
      [1, 2, 3, 4, 5], [0, 50, 100, 150, 200], 3.6, '(1e5x)')
panel((317, 435, top, bot), x_md, f6c_mean, f6c_band, C4, (0.01, 1.0), (-0.087, 0.82),
      [0.2, 0.4, 0.6, 0.8, 1.0], [0.0, 0.2, 0.4, 0.6, 0.8], 3.6, '(1e6x)')
panel((447, 568, top, bot), x_md, f6d_mean, f6d_band, C4, (0.01, 1.0), (-0.57, 9.97),
      [0.2, 0.4, 0.6, 0.8, 1.0], [0, 2, 4, 6, 8], 3.6, '(1e6x)')
subcap((51, 165), 519, '(a) Reward-Lag-SpeedLimit')
subcap((185, 301), 519, '(b) Cost-Lag-SpeedLimit')
subcap((317, 435), 519, '(c) Reward-FAC-MetaDrive')
subcap((447, 568), 519, '(d) Cost-FAC-MetaDrive')
caption_line(541.5, [('Figure 6.', True), ('Sensitivity studies of Lagrangian-based methods. The first two figures '
                                          'are reward and cost plots of Off-policy Lagrangian on', False)], True)
caption_line(553.5, [(r'SpeedLimit task with different $\lambda$ learning rates. The last two figures are success '
                      'rate and cost plots of Feasible Actor-Critic on MetaDrive', False)], True)
caption_line(565.5, [(r'benchmark with different $\lambda(s;\xi)$ learning rates.', False)], False)

# ---------------- Figure 7 ----------------
legend(592, 605, labels7, C4)
top, bot = 615, 695
panel((51, 165, top, bot), x_sl, f7a_mean, f7a_band, C4, (0.05, 5), (242, 758),
      [1, 2, 3, 4, 5], [300, 400, 500, 600, 700], 3.6)
panel((185, 301, top, bot), x_sl, f7b_mean, f7b_band, C4, (0.05, 5), (-23, 523),
      [1, 2, 3, 4, 5], [0, 100, 200, 300, 400, 500], 3.6)
panel((316, 432, top, bot), x_md, f7c_mean, f7c_band, C4, (0.01, 1.0), (0.267, 0.876),
      [0.2, 0.4, 0.6, 0.8, 1.0], [0.3, 0.4, 0.5, 0.6, 0.7, 0.8], 3.6)
panel((447, 567, top, bot), x_md, f7d_mean, f7d_band, C4, (0.01, 1.0), (1.77, 12.9),
      [0.2, 0.4, 0.6, 0.8, 1.0], [2, 4, 6, 8, 10, 12], 3.6)
subcap((51, 165), 715, '(a) Eval Episode Reward')
subcap((185, 301), 715, '(b) Eval Episode Cost')
subcap((316, 432), 715, '(c) Training Cost rate')
subcap((447, 567), 715, '(d) Training Cost rate')
caption_line(737.5, [('Figure 7.', True), ('Sensitivity studies of Exact Penalty Optimization. The first two figures '
                                          'are reward and cost plots of EPO on the SpeedLimit', False)], True)
caption_line(749.8, [(r'task with different penalty factors $\kappa$. The last two figures are the success rate and '
                      'cost plots of EPO on the MetaDrive benchmark with', False)], True)
caption_line(762, [(r'different penalty factors $\kappa$.', False)], False)

fig.savefig('out.png', dpi=100)
